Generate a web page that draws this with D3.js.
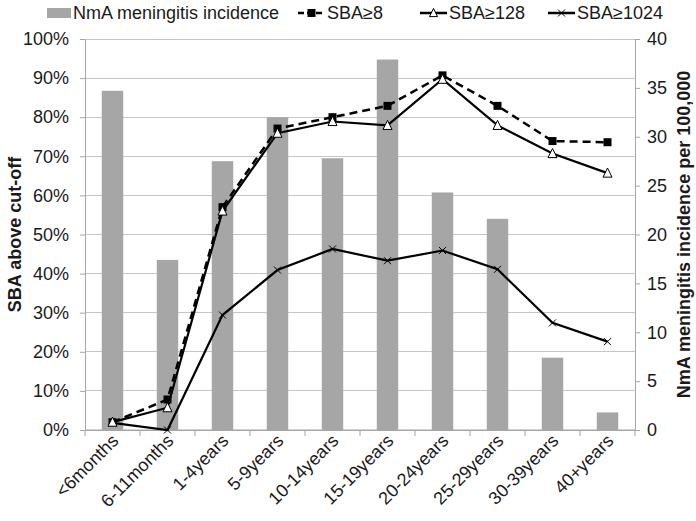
<!DOCTYPE html>
<html><head><meta charset="utf-8">
<script src="https://cdn.jsdelivr.net/npm/d3@7"></script>
<style>body{margin:0;background:#fff}svg{display:block;font-family:"Liberation Sans",Arial,sans-serif}</style>
</head><body><svg id="c" width="696" height="521"></svg>
<script>
const categories = ["<6months","6-11months","1-4years","5-9years","10-14years","15-19years","20-24years","25-29years","30-39years","40+years"];
const incidence = [34.7,17.4,27.5,32.0,27.8,37.9,24.3,21.6,7.4,1.8];
const sba8 = [2.0,7.8,57.0,77.1,80.0,82.9,90.7,82.9,73.9,73.6];
const sba128 = [2.0,5.7,56.0,75.9,78.9,77.9,89.7,77.9,70.7,65.7];
const sba1024 = [1.8,0.0,29.4,40.9,46.3,43.3,45.9,41.1,27.4,22.6];
const leftTicks = [0,10,20,30,40,50,60,70,80,90,100];
const rightTicks = [0,5,10,15,20,25,30,35,40];
const legendLabels = ["NmA meningitis incidence","SBA≥8","SBA≥128","SBA≥1024"];

const svg = d3.select("#c");
const m = {l:85, r:61, t:39, b:91};
const W = 696, H = 521;
const x = d3.scaleBand().domain(categories).range([m.l, W-m.r]).paddingInner(0).paddingOuter(0);
const yL = d3.scaleLinear().domain([0,100]).range([H-m.b, m.t]);
const yR = d3.scaleLinear().domain([0,40]).range([H-m.b, m.t]);
const FS = 18;
const gridC = "#c6c6c6", axisC = "#a6a6a6", barC = "#a6a6a6", txtC = "#1a1a1a";

// gridlines
svg.append("g").selectAll("line").data(leftTicks.slice(1)).join("line")
  .attr("x1", m.l).attr("x2", W-m.r).attr("y1", d=>yL(d)).attr("y2", d=>yL(d))
  .attr("stroke", gridC).attr("stroke-width",1).attr("shape-rendering","crispEdges");

// left axis
const gl = svg.append("g").attr("transform",`translate(${m.l},0)`)
  .call(d3.axisLeft(yL).tickValues(leftTicks).tickFormat(d=>d+"%").tickSize(5).tickSizeOuter(0).tickPadding(11));
// right axis
const gr = svg.append("g").attr("transform",`translate(${W-m.r},0)`)
  .call(d3.axisRight(yR).tickValues(rightTicks).tickSize(5).tickSizeOuter(0).tickPadding(7));
// bottom axis
const gb = svg.append("g").attr("transform",`translate(0,${H-m.b})`)
  .call(d3.axisBottom(x).tickSize(0).tickPadding(0));
gb.selectAll(".tick text").remove();
const bounds = d3.range(categories.length+1).map(i=>m.l + i*x.step());
gb.selectAll("line.bt").data(bounds).join("line").attr("class","bt")
  .attr("x1",d=>d).attr("x2",d=>d).attr("y1",0).attr("y2",6).attr("stroke",axisC);

[gl,gr,gb].forEach(g=>{
  g.selectAll(".domain").attr("stroke",axisC);
  g.selectAll(".tick line").attr("stroke",axisC);
  g.selectAll(".tick text").attr("font-size",FS).attr("fill",txtC).attr("font-family",'"Liberation Sans",Arial,sans-serif');
});

// x labels
svg.append("g").selectAll("text").data(categories).join("text")
  .attr("transform", d=>`translate(${x(d)+x.bandwidth()/2+7},${H-m.b+12}) rotate(-45)`)
  .attr("text-anchor","end").attr("font-size",FS).attr("fill",txtC).text(d=>d);

// bars
const bw = x.bandwidth()*0.39;
svg.append("g").selectAll("rect").data(incidence).join("rect")
  .attr("x",(d,i)=>x(categories[i])+x.bandwidth()/2-bw/2)
  .attr("width",bw).attr("y",d=>yR(d)).attr("height",d=>yR(0)-yR(d)).attr("fill",barC);

svg.append("line").attr("x1",m.l).attr("x2",W-m.r).attr("y1",H-m.b).attr("y2",H-m.b).attr("stroke",axisC);

const cx = i=>x(categories[i])+x.bandwidth()/2;
const line = d3.line().x((d,i)=>cx(i)).y(d=>yL(d));

function drawSquare(g,px,py,s){g.append("rect").attr("x",px-s/2).attr("y",py-s/2).attr("width",s).attr("height",s).attr("fill","#000");}
function drawTri(g,px,py,s){const h=s*0.9;g.append("path").attr("d",`M${px},${py-h/2-1}L${px+s/2},${py+h/2}L${px-s/2},${py+h/2}Z`).attr("fill","#fff").attr("stroke","#000").attr("stroke-width",1);}
function drawX(g,px,py,s){g.append("path").attr("d",`M${px-s/2},${py-s/2}L${px+s/2},${py+s/2}M${px-s/2},${py+s/2}L${px+s/2},${py-s/2}`).attr("stroke","#000").attr("stroke-width",1);}

const gLines = svg.append("g");
gLines.append("path").datum(sba1024).attr("d",line).attr("fill","none").attr("stroke","#000").attr("stroke-width",2.2);
gLines.append("path").datum(sba128).attr("d",line).attr("fill","none").attr("stroke","#000").attr("stroke-width",2.2);
gLines.append("path").datum(sba8).attr("d",line).attr("fill","none").attr("stroke","#000").attr("stroke-width",2.5).attr("stroke-dasharray","8,5");
sba1024.forEach((d,i)=>drawX(gLines,cx(i),yL(d),7));
sba8.forEach((d,i)=>drawSquare(gLines,cx(i),yL(d),8));
sba128.forEach((d,i)=>drawTri(gLines,cx(i),yL(d),9));

// axis titles
svg.append("text").attr("transform",`translate(21,${(m.t+H-m.b)/2}) rotate(-90)`).attr("text-anchor","middle")
  .attr("font-size",FS).attr("font-weight","bold").attr("fill",txtC).text("SBA above cut-off");
svg.append("text").attr("transform",`translate(690,${(m.t+H-m.b)/2}) rotate(-90)`).attr("text-anchor","middle")
  .attr("font-size",FS).attr("font-weight","bold").attr("fill",txtC).text("NmA meningitis incidence per 100,000");

// legend
const lg = svg.append("g");
const ly = 13;
lg.append("rect").attr("x",47).attr("y",ly-5).attr("width",24).attr("height",10).attr("fill",barC);
lg.append("text").attr("x",73).attr("y",ly+6).attr("font-size",FS).attr("fill",txtC).text(legendLabels[0]);
const items = [{x0:298,lab:legendLabels[1],t:"sq"},{x0:420,lab:legendLabels[2],t:"tri"},{x0:548,lab:legendLabels[3],t:"x"}];
items.forEach(it=>{
  const l = lg.append("line").attr("x1",it.x0).attr("x2",it.x0+27).attr("y1",ly).attr("y2",ly).attr("stroke","#000").attr("stroke-width",2.5);
  if(it.t==="sq"){l.attr("stroke-dasharray","6,3");drawSquare(lg,it.x0+13.5,ly,8);}
  if(it.t==="tri") drawTri(lg,it.x0+13.5,ly,8);
  if(it.t==="x") drawX(lg,it.x0+13.5,ly,7);
  lg.append("text").attr("x",it.x0+29).attr("y",ly+6).attr("font-size",FS).attr("fill",txtC).text(it.lab);
});
</script></body></html>
